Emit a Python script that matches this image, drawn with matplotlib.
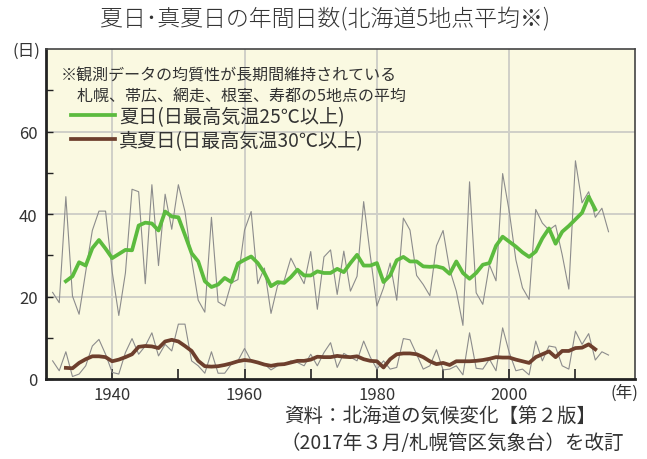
import numpy as np
import matplotlib
matplotlib.use("Agg")
import matplotlib.pyplot as plt

# Japanese font first, DejaVu as fallback for odd symbols
plt.rcParams['font.family'] = ['Noto Sans CJK JP', 'DejaVu Sans']

# Years of the annual values (gray thin lines)
years = list(range(1931, 2016))

# Annual number of summer days (max temp >= 25C), 5-site average
summer_days = [
    21.0, 18.5, 44.2, 20.1, 15.7, 26.0, 36.0, 40.7, 40.7, 26.0,
    15.4, 25.7, 46.0, 45.4, 23.1, 47.1, 27.5, 44.8, 36.3, 47.1,
    40.6, 28.9, 19.1, 16.2, 39.2, 18.7, 17.7, 23.3, 24.1, 36.1,
    40.6, 23.1, 26.9, 15.9, 22.7, 23.9, 29.3, 26.1, 23.1, 30.9,
    16.9, 29.6, 31.3, 20.5, 31.0, 21.3, 24.9, 43.0, 30.0, 17.7,
    22.1, 28.1, 19.1, 39.0, 36.1, 25.1, 22.9, 20.2, 32.3, 36.0,
    26.5, 21.3, 13.0, 47.8, 20.9, 18.1, 27.7, 23.8, 49.8, 40.6,
    28.9, 22.1, 19.3, 41.1, 37.8, 36.1, 37.3, 30.1, 21.8, 52.9,
    42.7, 45.4, 39.2, 41.4, 35.7,
]

# Annual number of midsummer days (max temp >= 30C)
midsummer_days = [
    4.4, 2.0, 6.6, 0.6, 1.2, 3.2, 8.0, 9.6, 6.0, 1.6,
    1.2, 6.4, 9.8, 6.0, 8.0, 11.2, 5.6, 8.4, 6.8, 13.3,
    13.3, 4.4, 3.2, 1.4, 6.6, 1.4, 1.4, 3.6, 4.4, 7.4,
    4.4, 4.0, 3.6, 2.2, 3.2, 3.6, 4.4, 4.0, 3.2, 6.0,
    3.2, 6.4, 8.8, 2.8, 6.2, 5.3, 4.4, 9.2, 5.3, 2.4,
    4.4, 2.4, 2.8, 9.8, 9.5, 6.0, 2.4, 3.2, 7.1, 2.2,
    2.4, 3.2, 1.0, 11.2, 2.6, 2.4, 4.8, 2.0, 12.4, 6.4,
    2.0, 2.4, 1.0, 9.2, 4.4, 8.0, 7.7, 3.2, 2.4, 11.6,
    8.4, 11.0, 4.6, 6.6, 5.8,
]

# 5-year running mean (thick lines)
mean_years = list(range(1933, 2014))
summer_mean = [
    23.7, 24.9, 28.3, 27.5, 31.7, 33.7, 31.6, 29.3, 30.3, 31.3,
    31.2, 37.2, 37.9, 37.7, 36.0, 40.6, 39.4, 39.2, 34.9, 30.5,
    28.5, 23.7, 22.3, 22.9, 24.5, 23.5, 28.0, 28.9, 29.7, 28.1,
    25.7, 22.5, 23.5, 23.3, 24.7, 26.5, 25.1, 25.1, 26.1, 25.7,
    25.7, 26.7, 25.9, 28.1, 30.1, 27.5, 27.5, 28.1, 23.5, 25.1,
    28.8, 29.6, 28.5, 28.5, 27.3, 27.2, 27.3, 26.9, 25.5, 28.5,
    25.7, 24.3, 25.7, 27.7, 28.1, 32.3, 34.5, 33.3, 32.1, 30.7,
    29.6, 30.9, 34.1, 36.5, 32.8, 35.7, 37.1, 38.7, 40.3, 44.2,
    41.1,
]
midsummer_mean = [
    2.7, 2.6, 3.9, 4.8, 5.5, 5.5, 5.3, 4.3, 4.7, 5.3,
    6.0, 7.8, 8.0, 7.9, 7.5, 9.1, 9.5, 9.1, 8.0, 6.8,
    4.4, 3.1, 3.0, 3.1, 3.4, 3.8, 4.3, 4.6, 4.4, 4.0,
    3.5, 3.2, 3.5, 3.6, 4.0, 4.4, 4.4, 4.7, 5.4, 5.3,
    5.3, 5.6, 5.4, 5.3, 5.5, 4.8, 4.4, 4.3, 2.8, 4.8,
    6.0, 6.2, 6.2, 6.0, 5.3, 4.3, 3.6, 3.9, 3.4, 4.3,
    4.3, 4.3, 4.4, 4.6, 4.9, 5.3, 5.2, 5.2, 4.7, 4.3,
    3.9, 5.3, 6.0, 6.7, 5.3, 6.8, 6.8, 7.5, 7.6, 8.4,
    7.2,
]

legend_labels = ["夏日(日最高気温25℃以上)", "真夏日(日最高気温30℃以上)"]
note_lines = ["※観測データの均質性が長期間維持されている",
              "　札幌、帯広、網走、根室、寿都の5地点の平均"]

green = "#5cbb3e"
brown = "#6e3f2d"
gray = "#8c8c8c"
text_color = "#333333"

fig = plt.figure(figsize=(6.47, 4.6), dpi=100)
ax = fig.add_axes([46 / 647, 80 / 460, 589 / 647, 330 / 460])
ax.set_facecolor("#faf9e1")

# grid at 20-day and 20-year steps
for gy in [20, 40, 60]:
    ax.axhline(gy, color="#cfcfc8", lw=1.4, zorder=1)
for gx in [1940, 1960, 1980, 2000]:
    ax.axvline(gx, color="#cfcfc8", lw=1.4, zorder=1)

# annual values
ax.plot(years, summer_days, color=gray, lw=0.8, zorder=2)
ax.plot(years, midsummer_days, color=gray, lw=0.8, zorder=2)

# running means
ax.plot(mean_years, summer_mean, color=green, lw=2.7, zorder=3,
        solid_joinstyle="round", label=legend_labels[0])
ax.plot(mean_years, midsummer_mean, color=brown, lw=2.7, zorder=3,
        solid_joinstyle="round", label=legend_labels[1])

ax.set_xlim(1930, 2019)
ax.set_ylim(0, 80)

ax.set_xticks([1940, 1950, 1960, 1970, 1980, 1990, 2000, 2010])
ax.set_xticklabels(["1940", "", "1960", "", "1980", "", "2000", ""])
ax.set_yticks([0, 10, 20, 30, 40, 50, 60, 70])
ax.set_yticklabels(["0", "", "20", "", "40", "", "60", ""])
ax.tick_params(axis="x", direction="in", length=7, width=1.2,
               labelsize=12, pad=5, colors="#222222", labelcolor=text_color)
ax.tick_params(axis="y", direction="in", length=5, width=1.0,
               labelsize=12, pad=6, colors="#222222", labelcolor=text_color)

for side in ["left", "bottom"]:
    ax.spines[side].set_linewidth(2.0)
    ax.spines[side].set_color("#222222")
for side in ["top", "right"]:
    ax.spines[side].set_linewidth(1.2)
    ax.spines[side].set_color("#444444")

# note in the upper-left corner
ax.text(0.025, 0.92, note_lines[0], transform=ax.transAxes, fontsize=11.5,
        color=text_color, va="center", ha="left")
ax.text(0.025, 0.857, note_lines[1], transform=ax.transAxes, fontsize=11.5,
        color=text_color, va="center", ha="left")

leg = ax.legend(loc="upper left", bbox_to_anchor=(0.03, 0.85), frameon=False,
                fontsize=13.8, handlelength=2.3, handletextpad=0.2,
                labelspacing=0.15, borderaxespad=0.0)
for t in leg.get_texts():
    t.set_color(text_color)

# title and outer labels
fig.text(325 / 647, 1 - 20 / 460, "夏日･真夏日の年間日数(北海道5地点平均※)",
         ha="center", va="center", fontsize=16.5, color=text_color,
         fontweight="light")
fig.text(26 / 647, 1 - 51 / 460, "(日)", ha="center", va="center",
         fontsize=12, color=text_color)
fig.text(624 / 647, 1 - 393 / 460, "(年)", ha="center", va="center",
         fontsize=12, color=text_color)
fig.text(284 / 647, 1 - 416 / 460, "資料：北海道の気候変化【第２版】",
         ha="left", va="center", fontsize=14, color=text_color)
fig.text(280 / 647, 1 - 444 / 460, "（2017年３月/札幌管区気象台）を改訂",
         ha="left", va="center", fontsize=14, color=text_color)

fig.savefig("out.png", dpi=100, facecolor="white")
